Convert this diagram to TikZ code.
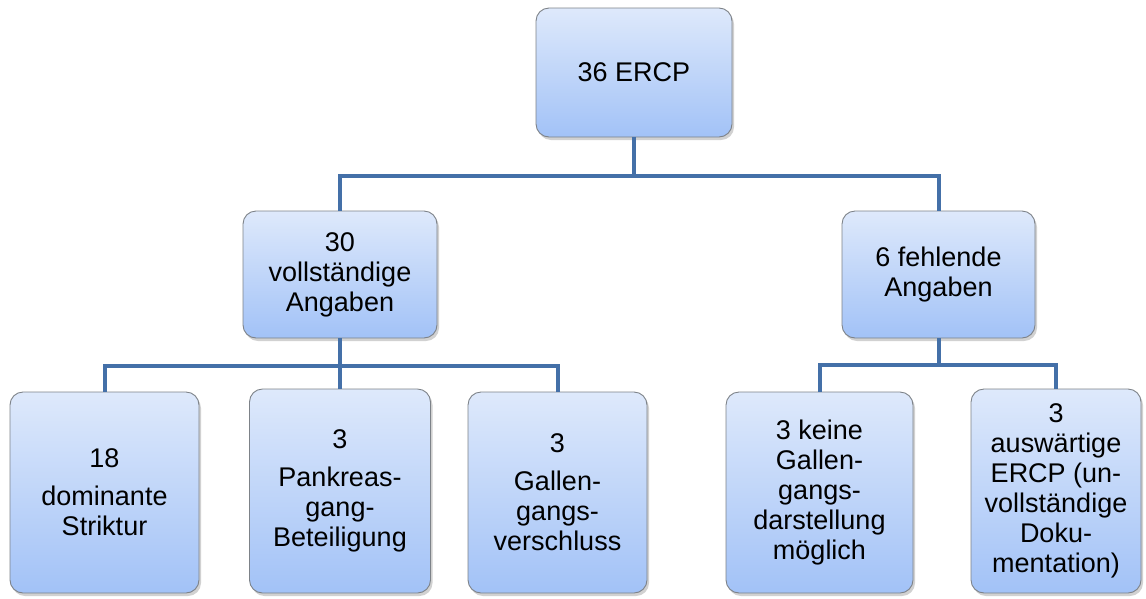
\documentclass[tikz,border=0pt]{standalone}
\usepackage{fontspec}
\setmainfont{Liberation Sans}
\usetikzlibrary{shadows}
\definecolor{boxtop}{HTML}{DEE9FB}
\definecolor{boxbottom}{HTML}{A2C2F7}
\definecolor{boxline}{HTML}{7D8288}
\definecolor{linkblue}{HTML}{4470A8}
\tikzset{
  orgbox/.style={draw=boxline, line width=0.9pt, rounded corners=13pt,
    top color=boxtop, bottom color=boxbottom, align=center, inner sep=2pt,
    font=\fontsize{27pt}{30pt}\selectfont,
    drop shadow={shadow xshift=2pt, shadow yshift=-3pt, opacity=0.3, fill=black!60}},
  link/.style={draw=linkblue, line width=4pt, line join=miter}
}
\begin{document}
\begin{tikzpicture}[x=1pt, y=-1pt]
\useasboundingbox (0,0) rectangle (1146,598);
% level 1
\node[orgbox, minimum width=196pt, minimum height=129pt] (top) at (634,72.5) {36 ERCP};
% level 2
\node[orgbox, minimum width=194pt, minimum height=127pt] (full) at (340,274.5)
  {30\\vollständige\\Angaben};
\node[orgbox, minimum width=193pt, minimum height=127pt] (miss) at (938.5,274.5)
  {6 fehlende\\Angaben};
% level 3
\node[orgbox, minimum width=189pt, minimum height=201pt] (b1) at (104.5,492.5)
  {18\\[8pt]dominante\\Striktur};
\node[orgbox, minimum width=181pt, minimum height=204pt] (b2) at (340,491)
  {3\\[8pt]Pankreas-\\gang-\\Beteiligung};
\node[orgbox, minimum width=179pt, minimum height=201pt] (b3) at (557.5,492.5)
  {3\\[8pt]Gallen-\\gangs-\\verschluss};
\node[orgbox, minimum width=187pt, minimum height=201pt] (b4) at (819.5,492.5)
  {3 keine\\Gallen-\\gangs-\\darstellung\\möglich};
\node[orgbox, minimum width=170pt, minimum height=204pt] (b5) at (1056,491)
  {3\\auswärtige\\ERCP (un-\\vollständige\\Doku-\\mentation)};
% junctions of the connector trees
\coordinate (j1) at (634,176);
\coordinate (j2) at (340,366);
\coordinate (j3) at (938.5,365);
% connectors
\draw[link] (top.south) -- (j1);
\draw[link] (full.north) |- (j1) -| (miss.north);
\draw[link] (full.south) -- (j2);
\draw[link] (b1.north) |- (j2) -| (b3.north);
\draw[link] (j2) -- (b2.north);
\draw[link] (miss.south) -- (j3);
\draw[link] (b4.north) |- (j3) -| (b5.north);
\end{tikzpicture}
\end{document}
